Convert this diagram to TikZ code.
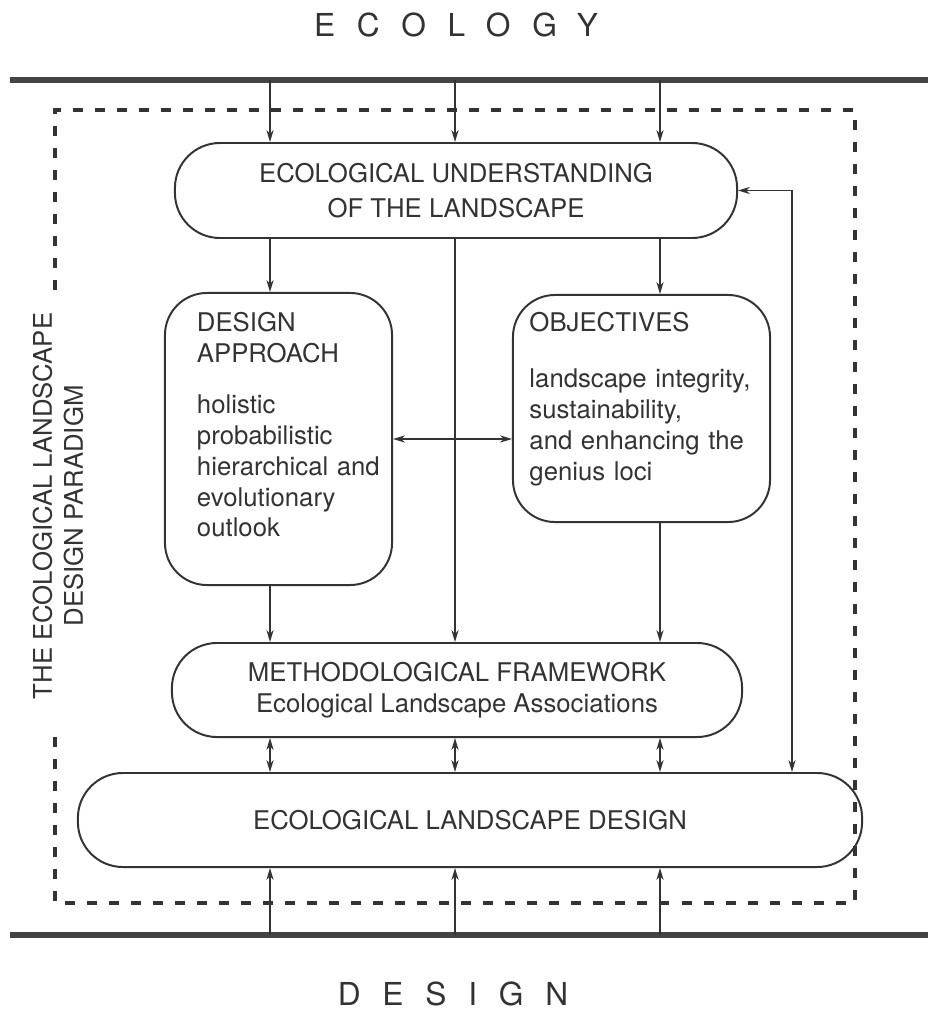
\documentclass[tikz,border=0pt]{standalone}
\usepackage{fontspec}
\setmainfont{TeX Gyre Heros}
\usetikzlibrary{arrows.meta, positioning, calc}
\definecolor{ink}{HTML}{333333}
\definecolor{band}{HTML}{444444}
\newcommand{\boxfont}{\fontsize{18.3}{22}\selectfont}
\newcommand{\titlefont}{\fontsize{22.5}{27}\selectfont\addfontfeature{LetterSpace=69}}
\tikzset{
  pill/.style={rectangle, rounded corners=1.125cm, draw=ink, line width=1.4pt,
               align=center, font=\boxfont},
  tallbox/.style={rectangle, rounded corners=1.05cm, draw=ink, line width=1.4pt,
                  align=left, font=\boxfont, inner ysep=0pt, text height=0.46cm},
  arr/.style={-{Stealth[length=0.3cm, width=0.18cm]}, line width=1pt, #1},
  arr/.default=ink,
  darr/.style={{Stealth[length=0.3cm, width=0.18cm]}-{Stealth[length=0.3cm, width=0.18cm]},
               line width=1pt, #1},
  darr/.default=ink,
  bandline/.style={line width=0.13cm, draw=band},
  frame/.style={draw=ink, line width=2.4pt, dash pattern=on 0.25cm off 0.3cm},
  titletext/.style={font=\titlefont, text=ink},
}

\begin{document}
\begin{tikzpicture}[x=0.025cm, y=-0.025cm, every node/.style={text=ink}]
  \useasboundingbox (0,0) rectangle (928,1011);

  % ecology and design bands
  \coordinate (ecoL) at (10,80);  \coordinate (ecoR) at (928,80);
  \coordinate (desL) at (10,935); \coordinate (desR) at (928,935);
  \draw[bandline] (ecoL) -- (ecoR);
  \draw[bandline] (desL) -- (desR);
  \node[titletext] (ecology) at (456,25) {ECOLOGY};
  \node[titletext] (design) at (453,994) {DESIGN};

  % paradigm frame
  \draw[frame] (55,290) -- (55,110) -- (855,110) -- (855,903) -- (55,903) -- (55,735);
  \node[rotate=90, font=\boxfont, align=center] (paradigm) at (58,506)
    {THE ECOLOGICAL LANDSCAPE\\DESIGN PARADIGM};

  % columns
  \coordinate (c1) at (270,0);
  \coordinate (c2) at (455,0);
  \coordinate (c3) at (660,0);
  \coordinate (c4) at (792,0);

  % boxes
  \node[pill, minimum width=14.05cm, minimum height=2.375cm] (under) at (456,190.5)
    {ECOLOGICAL UNDERSTANDING\\[0.1cm]OF THE LANDSCAPE};
  \node[tallbox, text width=4.075cm, inner xsep=0.8cm, text depth=5.84cm,
        minimum height=7.3cm] (approach) at (278.5,439)
    {DESIGN\\APPROACH\\[0.5cm]holistic\\probabilistic\\\mbox{hierarchical and}\\evolutionary\\outlook};
  \node[tallbox, text width=5.6cm, inner xsep=0.4125cm, text depth=4.31cm,
        minimum height=5.675cm] (objectives) at (641.5,408.5)
    {OBJECTIVES\\[0.62cm]landscape integrity,\\sustainability,\\and enhancing the\\genius loci};
  \node[pill, minimum width=14.25cm, minimum height=2.35cm] (method) at (457,690)
    {METHODOLOGICAL FRAMEWORK\\Ecological Landscape Associations};
  \node[pill, minimum width=19.6cm, minimum height=2.35cm] (elda) at (470,820)
    {ECOLOGICAL LANDSCAPE DESIGN};

  % connectors
  \foreach \c in {c1,c2,c3} {
    \draw[arr] (\c |- ecoL) -- (\c |- under.north);
    \draw[darr] (\c |- method.south) -- (\c |- elda.north);
    \draw[arr] (\c |- desL) -- (\c |- elda.south);
  }
  \draw[arr] (c1 |- under.south) -- (c1 |- approach.north);
  \draw[arr] (c3 |- under.south) -- (c3 |- objectives.north);
  \draw[arr] (c2 |- under.south) -- (c2 |- method.north);
  \draw[arr] (c1 |- approach.south) -- (c1 |- method.north);
  \draw[arr] (c3 |- objectives.south) -- (c3 |- method.north);
  \draw[darr] (approach.east) -- (approach.east -| objectives.west);
  \draw[darr] (under.east) -| (c4 |- elda.north);
\end{tikzpicture}
\end{document}
